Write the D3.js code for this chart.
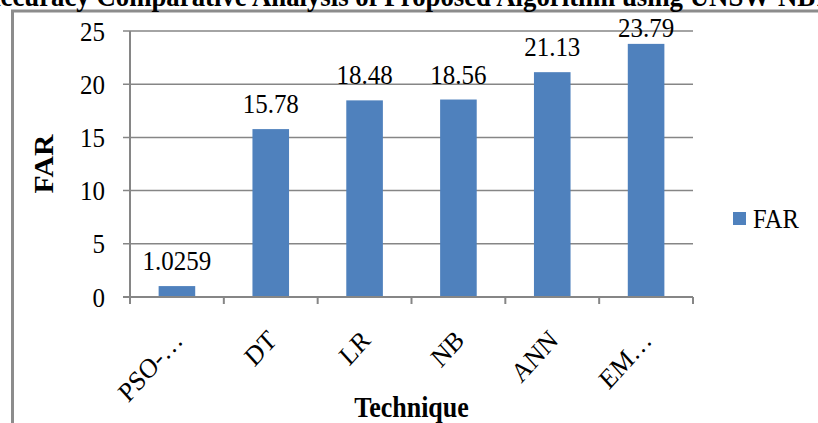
<!DOCTYPE html>
<html>
<head>
<meta charset="utf-8">
<script src="https://cdn.jsdelivr.net/npm/d3@7"></script>
<style>
  html, body { margin: 0; padding: 0; background: #fff; }
  svg { display: block; }
  text { font-family: "Liberation Serif", "Times New Roman", serif; fill: #000; }
</style>
</head>
<body>
<svg id="chart" width="818" height="423"></svg>
<script>
// FAR per technique on the UNSW-NB15 set
const categories = ["PSO-…", "DT", "LR", "NB", "ANN", "EM…"];
const farValues = [1.0259, 15.78, 18.48, 18.56, 21.13, 23.79];
const farLabels = ["1.0259", "15.78", "18.48", "18.56", "21.13", "23.79"];
const yTicks = [0, 5, 10, 15, 20, 25];
const seriesName = "FAR";
const chartTitle = "Accuracy Comparative Analysis of Proposed Algorithm using UNSW-NB15";

const svg = d3.select("#chart");
const plot = { left: 130, right: 693, top: 31, bottom: 297 };
const barColor = "#4F81BD";
const lineColor = "#868686";
const sy = 1.1; // text is drawn slightly taller than wide

const x = d3.scaleBand().domain(categories).range([plot.left, plot.right]).paddingInner(0.61).paddingOuter(0.305);
const y = d3.scaleLinear().domain([0, 25]).range([plot.bottom, plot.top]);

// places a text at (px, py) with the vertical stretch and optional rotation
const place = (px, py, rot = 0) => `translate(${px},${py}) scale(1,${sy})` + (rot ? ` rotate(${rot})` : "");

// outer chart frame
svg.append("rect")
  .attr("x", 12.5).attr("y", 11)
  .attr("width", 900).attr("height", 600)
  .attr("fill", "none").attr("stroke", "#8c8c8c").attr("stroke-width", 3);

// title (sits above the frame)
const title = svg.append("text")
  .attr("font-size", 26).attr("font-weight", "bold")
  .text(chartTitle);
{
  const n = title.node();
  const aW = n.getSubStringLength(0, 1);
  const spanW = n.getSubStringLength(1, chartTitle.indexOf("NB15") + 2 - 1);
  const fs = 26 * 815 / spanW;
  title.attr("font-size", fs);
  title.attr("transform", place(-aW * fs / 26 + 0.5, 6));
}

// horizontal gridlines with tick stubs
svg.append("g").selectAll("line").data(yTicks.filter(d => d > 0)).join("line")
  .attr("x1", plot.left - 7).attr("x2", plot.right)
  .attr("y1", d => y(d)).attr("y2", d => y(d))
  .attr("stroke", lineColor).attr("stroke-width", 1.5);

// y tick labels
svg.append("g").selectAll("text").data(yTicks).join("text")
  .attr("transform", d => place(105, y(d)))
  .attr("dy", "0.35em")
  .attr("text-anchor", "end").attr("font-size", 25)
  .text(d => d);

// bars
svg.append("g").selectAll("rect").data(farValues).join("rect")
  .attr("x", (d, i) => x(categories[i]))
  .attr("width", x.bandwidth())
  .attr("y", d => y(d))
  .attr("height", d => y(0) - y(d))
  .attr("fill", barColor);

// value labels, kept inside the chart area
svg.append("g").selectAll("text").data(farValues).join("text")
  .attr("transform", (d, i) => place(x(categories[i]) + x.bandwidth() / 2, Math.max(y(d) - 16, plot.top + 6)))
  .attr("text-anchor", "middle").attr("font-size", 25)
  .text((d, i) => farLabels[i]);

// axes
const step = (plot.right - plot.left) / categories.length;
svg.append("line")
  .attr("x1", plot.left).attr("x2", plot.left)
  .attr("y1", plot.top).attr("y2", plot.bottom)
  .attr("stroke", lineColor).attr("stroke-width", 2);
svg.append("line")
  .attr("x1", plot.left - 7).attr("x2", plot.right)
  .attr("y1", plot.bottom).attr("y2", plot.bottom)
  .attr("stroke", lineColor).attr("stroke-width", 2);
svg.append("g").selectAll("line").data(d3.range(categories.length + 1)).join("line")
  .attr("x1", i => plot.left + i * step).attr("x2", i => plot.left + i * step)
  .attr("y1", plot.bottom).attr("y2", plot.bottom + 7)
  .attr("stroke", lineColor).attr("stroke-width", 2);

// category labels, rotated
svg.append("g").selectAll("text").data(categories).join("text")
  .attr("transform", d => place(x(d) + x.bandwidth() / 2 + 1, plot.bottom + 38, -45))
  .attr("text-anchor", "end").attr("dy", "0.35em").attr("font-size", 25)
  .text(d => d);

// axis titles
svg.append("text")
  .attr("transform", place((plot.left + plot.right) / 2, 417))
  .attr("text-anchor", "middle").attr("font-size", 26).attr("font-weight", "bold")
  .text("Technique");
svg.append("text")
  .attr("transform", `translate(53,${(plot.top + plot.bottom) / 2}) scale(1,${sy}) rotate(-90)`)
  .attr("text-anchor", "middle").attr("font-size", 27).attr("font-weight", "bold")
  .text(seriesName);

// legend
const legend = svg.append("g").attr("transform", "translate(733,212)");
legend.append("rect").attr("width", 13).attr("height", 13).attr("fill", barColor);
legend.append("text").attr("transform", place(20, 16)).attr("font-size", 24.5).text(seriesName);
</script>
</body>
</html>
